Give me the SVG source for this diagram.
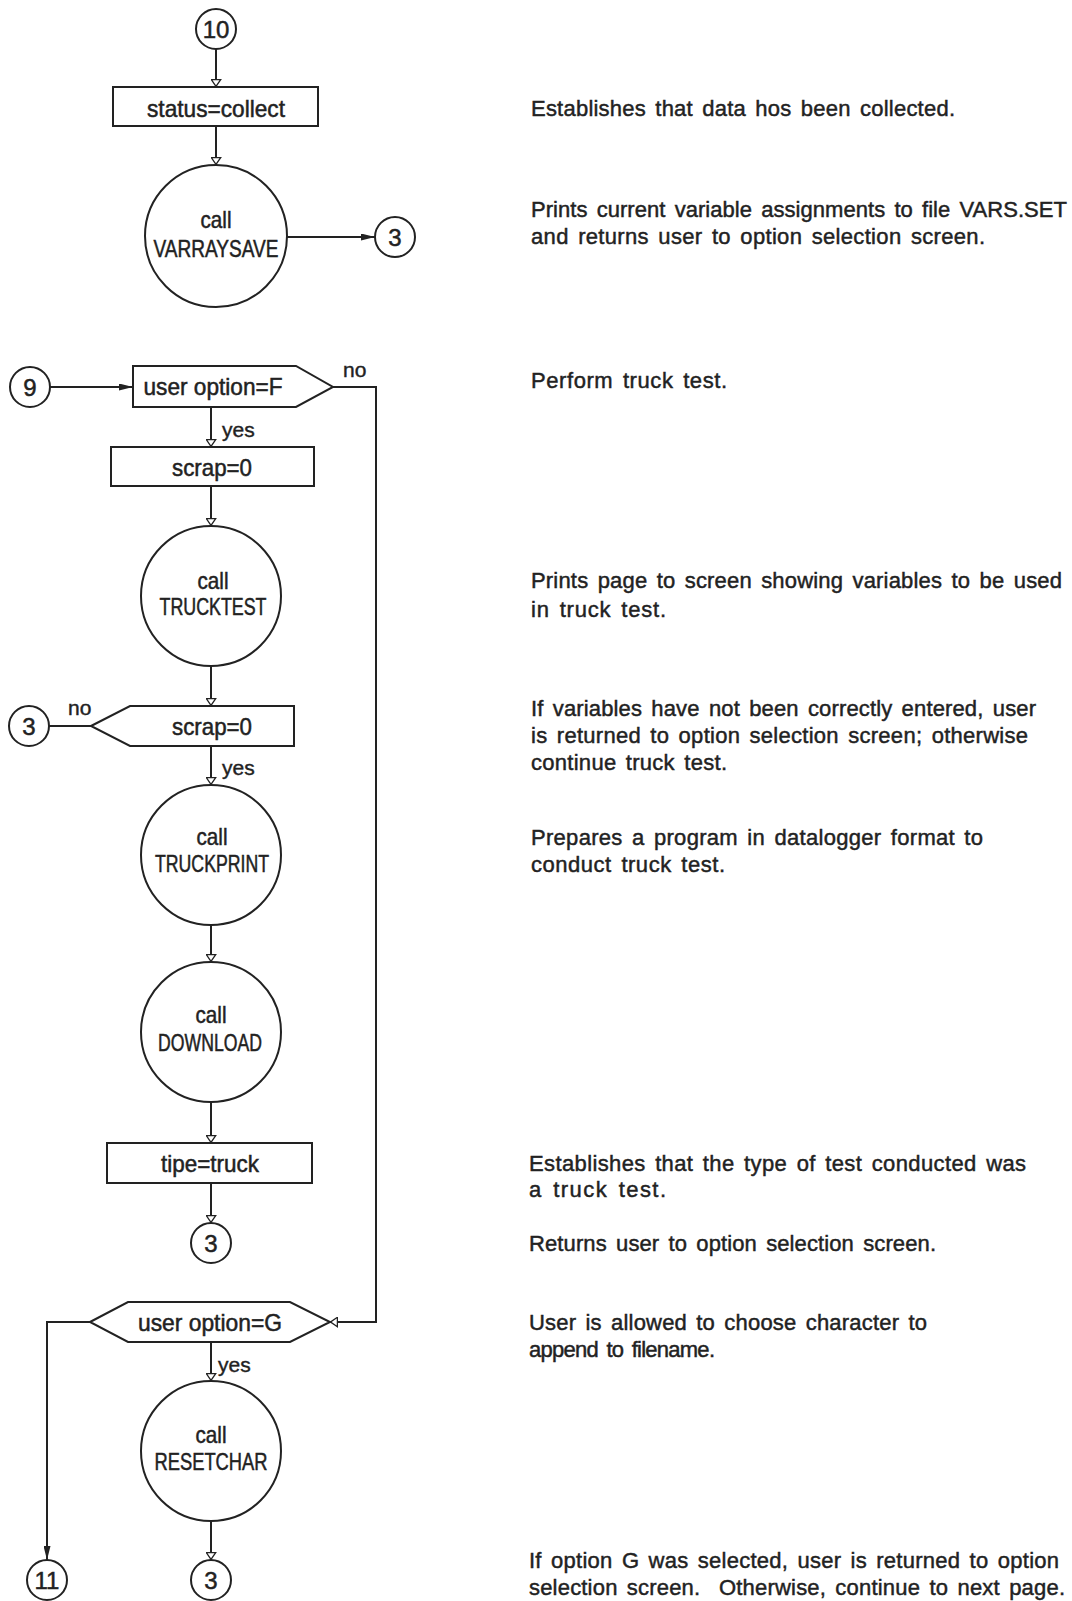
<svg xmlns="http://www.w3.org/2000/svg" width="1072" height="1601" viewBox="0 0 1072 1601">
<style>
.s{fill:#fff;stroke:#222;stroke-width:2}
.c{fill:none;stroke:#222;stroke-width:2}
.t{font-family:"Liberation Sans",Arial,sans-serif;font-size:24px;fill:#222;stroke:#222;stroke-width:0.5;text-anchor:middle}
.l{font-family:"Liberation Sans",Arial,sans-serif;font-size:21px;fill:#222;stroke:#222;stroke-width:0.4}
.d{font-family:"Liberation Sans",Arial,sans-serif;font-size:22px;fill:#222;stroke:#222;stroke-width:0.45;word-spacing:3px}
</style>
<defs>
<marker id="open" viewBox="0 0 8 11" refX="8" refY="5.5" markerWidth="8" markerHeight="11" markerUnits="userSpaceOnUse" orient="auto">
<path d="M0.6,0.8 L7.4,5.5 L0.6,10.2 z" fill="#fff" stroke="#222" stroke-width="1.3"/>
</marker>
<marker id="fill" viewBox="0 0 14 7" refX="14" refY="3.5" markerWidth="14" markerHeight="7" markerUnits="userSpaceOnUse" orient="auto">
<path d="M0,0 L14,3.5 L0,7 z" fill="#222"/>
</marker>
</defs>
<rect width="1072" height="1601" fill="#fff"/>

<g id="connectors">
<line class="c" x1="216" y1="49" x2="216" y2="87" marker-end="url(#open)"/>
<line class="c" x1="216" y1="126" x2="216" y2="165" marker-end="url(#open)"/>
<line class="c" x1="287" y1="237" x2="375" y2="237" marker-end="url(#fill)"/>
<line class="c" x1="50" y1="387" x2="133" y2="387" marker-end="url(#fill)"/>
<polyline class="c" points="333,387 376,387 376,1322 330,1322" marker-end="url(#open)"/>
<line class="c" x1="211" y1="407" x2="211" y2="447" marker-end="url(#open)"/>
<line class="c" x1="211" y1="486" x2="211" y2="526" marker-end="url(#open)"/>
<line class="c" x1="211" y1="666" x2="211" y2="706" marker-end="url(#open)"/>
<line class="c" x1="49" y1="726" x2="91" y2="726"/>
<line class="c" x1="211" y1="746" x2="211" y2="785" marker-end="url(#open)"/>
<line class="c" x1="211" y1="925" x2="211" y2="962" marker-end="url(#open)"/>
<line class="c" x1="211" y1="1102" x2="211" y2="1143" marker-end="url(#open)"/>
<line class="c" x1="211" y1="1183" x2="211" y2="1223" marker-end="url(#open)"/>
<polyline class="c" points="90,1322 47,1322 47,1560" marker-end="url(#fill)"/>
<line class="c" x1="211" y1="1342" x2="211" y2="1381" marker-end="url(#open)"/>
<line class="c" x1="211" y1="1521" x2="211" y2="1560" marker-end="url(#open)"/>
<text class="l" x="343" y="377">no</text>
<text class="l" x="222" y="437">yes</text>
<text class="l" x="68" y="715">no</text>
<text class="l" x="222" y="775">yes</text>
<text class="l" x="218" y="1372">yes</text>
</g>

<g id="n10"><circle class="s" cx="216" cy="29" r="20"/><text class="t" x="216" y="38">10</text></g>
<g id="status"><rect class="s" x="113" y="87" width="205" height="39"/><text class="t" x="216" y="117" textLength="138" lengthAdjust="spacingAndGlyphs">status=collect</text></g>
<g id="varraysave"><circle class="s" cx="216" cy="236" r="71"/><text class="t" x="216" y="228" textLength="31" lengthAdjust="spacingAndGlyphs">call</text><text class="t" x="216" y="257" textLength="125" lengthAdjust="spacingAndGlyphs">VARRAYSAVE</text></g>
<g id="c3a"><circle class="s" cx="395" cy="237" r="20"/><text class="t" x="395" y="246">3</text></g>

<g id="n9"><circle class="s" cx="30" cy="387" r="20"/><text class="t" x="30" y="396">9</text></g>
<g id="optF"><polygon class="s" points="133,366 296,366 333,387 296,407 133,407"/><text class="t" x="213" y="395" textLength="139" lengthAdjust="spacingAndGlyphs">user option=F</text></g>
<g id="scrap1"><rect class="s" x="111" y="447" width="203" height="39"/><text class="t" x="212" y="476" textLength="80" lengthAdjust="spacingAndGlyphs">scrap=0</text></g>
<g id="trucktest"><circle class="s" cx="211" cy="596" r="70"/><text class="t" x="213" y="589" textLength="31" lengthAdjust="spacingAndGlyphs">call</text><text class="t" x="213" y="615" textLength="107" lengthAdjust="spacingAndGlyphs">TRUCKTEST</text></g>
<g id="scrap2"><polygon class="s" points="91,726 130,706 294,706 294,746 130,746"/><text class="t" x="212" y="735" textLength="80" lengthAdjust="spacingAndGlyphs">scrap=0</text></g>
<g id="c3b"><circle class="s" cx="29" cy="726" r="20"/><text class="t" x="29" y="735">3</text></g>
<g id="truckprint"><circle class="s" cx="211" cy="855" r="70"/><text class="t" x="212" y="845" textLength="31" lengthAdjust="spacingAndGlyphs">call</text><text class="t" x="212" y="872" textLength="114" lengthAdjust="spacingAndGlyphs">TRUCKPRINT</text></g>
<g id="download"><circle class="s" cx="211" cy="1032" r="70"/><text class="t" x="211" y="1023" textLength="31" lengthAdjust="spacingAndGlyphs">call</text><text class="t" x="210" y="1051" textLength="104" lengthAdjust="spacingAndGlyphs">DOWNLOAD</text></g>
<g id="tipe"><rect class="s" x="107" y="1143" width="205" height="40"/><text class="t" x="210" y="1172" textLength="98" lengthAdjust="spacingAndGlyphs">tipe=truck</text></g>
<g id="c3c"><circle class="s" cx="211" cy="1243" r="20"/><text class="t" x="211" y="1252">3</text></g>
<g id="optG"><polygon class="s" points="90,1322 128,1302 290,1302 330,1322 290,1342 128,1342"/><text class="t" x="210" y="1331" textLength="144" lengthAdjust="spacingAndGlyphs">user option=G</text></g>
<g id="resetchar"><circle class="s" cx="211" cy="1451" r="70"/><text class="t" x="211" y="1443" textLength="31" lengthAdjust="spacingAndGlyphs">call</text><text class="t" x="211" y="1470" textLength="113" lengthAdjust="spacingAndGlyphs">RESETCHAR</text></g>
<g id="c11"><circle class="s" cx="47" cy="1580" r="20"/><text class="t" x="47" y="1589">11</text></g>
<g id="c3d"><circle class="s" cx="211" cy="1580" r="20"/><text class="t" x="211" y="1589">3</text></g>

<g id="notes">
<text class="d" x="531" y="116" textLength="424" lengthAdjust="spacing">Establishes that data hos been collected.</text>
<text class="d" x="531" y="217" textLength="536" lengthAdjust="spacing">Prints current variable assignments to file VARS.SET</text>
<text class="d" x="531" y="244" textLength="454" lengthAdjust="spacing">and returns user to option selection screen.</text>
<text class="d" x="531" y="388" textLength="196" lengthAdjust="spacing">Perform truck test.</text>
<text class="d" x="531" y="588" textLength="531" lengthAdjust="spacing">Prints page to screen showing variables to be used</text>
<text class="d" x="531" y="617" textLength="135" lengthAdjust="spacing">in truck test.</text>
<text class="d" x="531" y="716" textLength="505" lengthAdjust="spacing">If variables have not been correctly entered, user</text>
<text class="d" x="531" y="743" textLength="497" lengthAdjust="spacing">is returned to option selection screen; otherwise</text>
<text class="d" x="531" y="770" textLength="196" lengthAdjust="spacing">continue truck test.</text>
<text class="d" x="531" y="845" textLength="452" lengthAdjust="spacing">Prepares a program in datalogger format to</text>
<text class="d" x="531" y="872" textLength="194" lengthAdjust="spacing">conduct truck test.</text>
<text class="d" x="529" y="1171" textLength="497" lengthAdjust="spacing">Establishes that the type of test conducted was</text>
<text class="d" x="529" y="1197" textLength="137" lengthAdjust="spacing">a truck test.</text>
<text class="d" x="529" y="1251" textLength="407" lengthAdjust="spacing">Returns user to option selection screen.</text>
<text class="d" x="529" y="1330" textLength="398" lengthAdjust="spacing">User is allowed to choose character to</text>
<text class="d" x="529" y="1357" textLength="186" lengthAdjust="spacing">append to filename.</text>
<text class="d" x="529" y="1568" textLength="530" lengthAdjust="spacing">If option G was selected, user is returned to option</text>
<text class="d" x="529" y="1595" textLength="536" lengthAdjust="spacing" xml:space="preserve">selection screen.  Otherwise, continue to next page.</text>
</g>
</svg>
